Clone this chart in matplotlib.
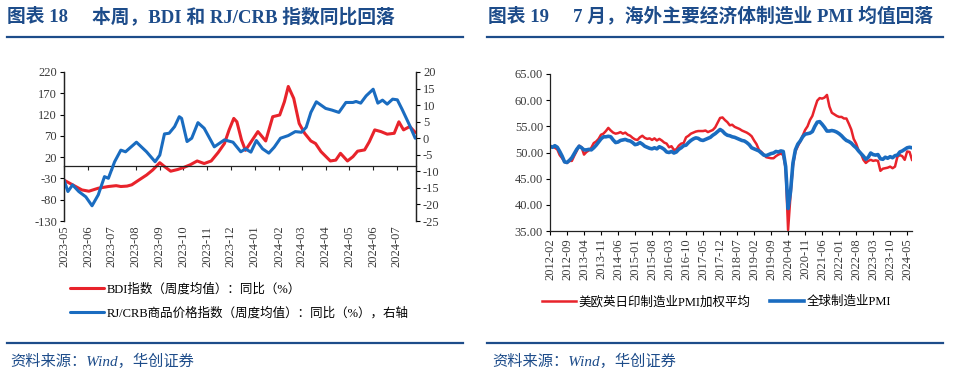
import matplotlib
matplotlib.use("Agg")
import matplotlib.pyplot as plt
import pandas as pd
import numpy as np

plt.rcParams['font.family'] = ['Liberation Serif', 'Noto Sans CJK SC', 'DejaVu Sans']
plt.rcParams['axes.unicode_minus'] = False

# ---- chart 18: BDI and RJ/CRB, yoy (%) ----
bdi_dates = ['2023-05-01', '2023-05-12', '2023-05-24', '2023-06-02', '2023-06-14', '2023-06-27',
             '2023-07-07', '2023-07-13', '2023-07-21', '2023-07-27', '2023-08-05', '2023-08-15',
             '2023-08-23', '2023-09-01', '2023-09-07', '2023-09-15', '2023-09-24', '2023-10-02',
             '2023-10-10', '2023-10-19', '2023-10-28', '2023-11-06', '2023-11-15', '2023-11-23',
             '2023-11-29', '2023-12-05', '2023-12-09', '2023-12-15', '2023-12-20', '2024-01-05',
             '2024-01-15', '2024-01-24', '2024-02-02', '2024-02-08', '2024-02-13', '2024-02-20',
             '2024-02-27', '2024-03-05', '2024-03-13', '2024-03-19', '2024-03-26', '2024-04-07',
             '2024-04-14', '2024-04-20', '2024-04-29', '2024-05-06', '2024-05-12', '2024-05-21',
             '2024-05-27', '2024-06-03', '2024-06-11', '2024-06-19', '2024-06-28', '2024-07-04',
             '2024-07-10', '2024-07-18', '2024-07-25']
bdi_yoy = [-34, -45, -57, -60, -53, -49, -47, -49, -48, -45, -34, -22,
           -10, 7, -2, -13, -9, -4, 2, 11, 5, 11, 31, 52,
           84, 111, 103, 60, 36, 80, 58, 115, 119, 150, 186, 158,
           99, 76, 58, 52, 33, 11, 13, 29, 11, 21, 34, 37,
           56, 84, 80, 74, 76, 103, 84, 92, 78]

crb_dates = ['2023-05-01', '2023-05-06', '2023-05-12', '2023-05-20', '2023-05-29', '2023-06-06',
             '2023-06-14', '2023-06-22', '2023-06-27', '2023-07-05', '2023-07-13', '2023-07-19',
             '2023-08-02', '2023-08-15', '2023-08-26', '2023-09-01', '2023-09-07', '2023-09-13',
             '2023-09-20', '2023-09-26', '2023-09-29', '2023-10-06', '2023-10-12', '2023-10-20',
             '2023-10-28', '2023-11-10', '2023-11-23', '2023-12-04', '2023-12-14', '2023-12-20',
             '2023-12-27', '2024-01-03', '2024-01-11', '2024-01-19', '2024-01-26', '2024-02-03',
             '2024-02-13', '2024-02-22', '2024-03-01', '2024-03-07', '2024-03-13', '2024-03-20',
             '2024-04-01', '2024-04-09', '2024-04-18', '2024-04-27', '2024-05-06', '2024-05-10',
             '2024-05-16', '2024-05-23', '2024-06-01', '2024-06-07', '2024-06-13', '2024-06-19',
             '2024-06-26', '2024-07-02', '2024-07-08', '2024-07-18', '2024-07-25']
crb_yoy = [-12.6, -16.1, -14.1, -16.1, -17.7, -20.4, -17.1, -11.6, -12.1, -7.1, -3.6, -4.1,
           -1.2, -4.1, -7.1, -5.1, 1.3, 1.5, 3.5, 6.5, 6.0, -1.0, 0.0, 4.7,
           3.0, -2.6, -0.5, -1.2, -4.1, -3.2, -4.2, -0.7, -3.2, -4.5, -2.7, 0.0,
           0.8, 2.0, 1.8, 3.3, 7.8, 11.0, 9.0, 8.5, 7.8, 10.8, 10.8, 11.1,
           10.6, 12.8, 14.8, 10.6, 11.5, 10.3, 11.8, 11.6, 8.8, 3.8, 0.0]

month_ticks = pd.date_range('2023-05-01', '2024-07-01', freq='MS')

# ---- chart 19: manufacturing PMI ----
pmi_months = pd.date_range('2012-02-01', '2024-07-01', freq='MS')
global_pmi = [51.2, 51.0, 51.3, 51.0, 50.2, 49.3, 48.2, 48.1, 48.5, 49.0, 49.8, 50.6,
              51.2, 50.9, 50.5, 50.5, 50.6, 50.5, 50.9, 51.4, 52.0, 52.6, 53.0, 53.0,
              53.1, 53.0, 52.4, 51.9, 52.0, 52.3, 52.4, 52.5, 52.3, 52.2, 51.9, 51.5,
              51.6, 51.9, 51.6, 51.2, 51.0, 50.8, 50.7, 50.9, 50.7, 51.1, 50.9, 50.6,
              50.1, 50.0, 50.2, 49.9, 50.1, 50.6, 50.9, 51.3, 51.4, 51.9, 52.3, 52.6,
              52.8, 52.7, 52.4, 52.3, 52.5, 52.7, 52.9, 53.3, 53.6, 54.0, 54.4, 54.1,
              53.6, 53.3, 53.2, 53.0, 52.9, 52.7, 52.5, 52.3, 52.2, 51.9, 51.5, 50.9,
              50.7, 50.5, 50.3, 49.9, 49.5, 49.4, 49.6, 49.8, 49.9, 50.2, 50.1, 50.3,
              50.2, 47.3, 39.3, 42.5, 48.0, 50.5, 51.6, 52.2, 53.0, 53.5, 53.6, 53.7,
              54.0, 55.0, 55.8, 55.9, 55.4, 54.8, 54.1, 54.1, 54.2, 54.1, 53.9, 53.6,
              53.2, 52.7, 52.3, 52.1, 51.8, 51.3, 50.9, 50.3, 49.8, 49.3, 48.7, 49.1,
              49.9, 49.6, 49.5, 49.6, 48.8, 48.7, 49.1, 48.9, 49.2, 49.0, 49.4, 49.5,
              50.1, 50.3, 50.6, 50.9, 51.0, 50.9]
dm_pmi = [51.3, 51.1, 50.9, 50.6, 49.5, 48.9, 48.2, 48.0, 48.4, 48.4, 49.4, 50.3,
          51.3, 51.0, 49.6, 50.1, 50.4, 50.9, 51.8, 52.1, 52.6, 53.4, 53.6, 54.1,
          54.7, 54.2, 53.8, 53.6, 53.7, 53.9, 53.6, 53.8, 53.4, 53.2, 52.8, 52.5,
          52.4, 52.9, 53.2, 52.8, 52.6, 52.7, 52.4, 52.7, 52.3, 52.6, 52.3, 51.9,
          51.7, 51.0, 51.2, 50.5, 50.6, 51.3, 51.7, 51.8, 52.9, 53.2, 53.6, 53.8,
          54.0, 54.1, 54.1, 54.1, 54.2, 53.9, 54.1, 54.3, 54.8, 55.7, 56.6, 56.7,
          56.2, 55.8, 55.2, 55.3, 54.9, 54.7, 54.5, 54.2, 54.0, 53.8, 53.5, 53.1,
          52.3, 51.6, 50.5, 50.1, 49.6, 49.1, 49.0, 48.9, 48.9, 49.3, 49.6, 49.8,
          49.5, 47.0, 35.2, 41.9, 47.5, 50.2, 51.2, 52.1, 53.2, 54.3, 55.0, 56.2,
          57.0, 58.5, 59.9, 60.4, 60.3, 60.5, 61.0, 58.8, 57.6, 57.3, 57.0, 56.8,
          56.8, 56.5, 56.5, 55.5, 54.4, 52.6, 51.7, 50.4, 49.8, 48.6, 48.0, 48.4,
          48.6, 48.4, 48.5, 48.4, 46.5, 46.9, 47.0, 47.1, 47.3, 47.0, 47.3, 49.2,
          49.5, 49.3, 48.6, 50.2, 50.1, 48.6]

RED = '#E8232B'
BLUE = '#1A6CC0'
NAVY = '#1D4C8A'
GRAY = '#3A3A3A'

fig = plt.figure(figsize=(9.6, 3.82), dpi=100)

# headers, rules and sources
ty = 1 - 17/382
fig.text(7/960, ty, '图表 18', fontsize=13.5, fontweight='bold', color=NAVY, va='center')
fig.text(92/960, ty, '本周，BDI 和 RJ/CRB 指数同比回落', fontsize=13.5, fontweight='bold',
         color=NAVY, va='center')
fig.text(488/960, ty, '图表 19', fontsize=13.5, fontweight='bold', color=NAVY, va='center')
fig.text(573/960, ty, '7 月，海外主要经济体制造业 PMI 均值回落', fontsize=13.5,
         fontweight='bold', color=NAVY, va='center')
for x0, x1 in [(7, 463), (487, 943)]:
    for yy in (37, 343):
        fig.add_artist(plt.Line2D([x0/960, x1/960], [1 - yy/382, 1 - yy/382],
                                  color=NAVY, lw=1.6))
fig.text(10/960, 1 - 361/382, '资料来源：Wind，华创证券', fontsize=11, style='italic',
         color=NAVY, va='center')
fig.text(492/960, 1 - 361/382, '资料来源：Wind，华创证券', fontsize=11, style='italic',
         color=NAVY, va='center')

# ---- left chart ----
ax = fig.add_axes([64/960, 1 - 221/382, (416 - 64)/960, (221 - 72)/382])
ax2 = ax.twinx()
l1, = ax.plot(pd.to_datetime(bdi_dates), bdi_yoy, color=RED, lw=2.2, solid_capstyle='round')
l2, = ax2.plot(pd.to_datetime(crb_dates), crb_yoy, color=BLUE, lw=2.2, solid_capstyle='round')
ax.set_ylim(-130, 220)
ax.set_yticks(np.arange(-130, 221, 50))
ax2.set_ylim(-25, 20)
ax2.set_yticks(np.arange(-25, 21, 5))
ax.set_xlim(pd.Timestamp('2023-05-01'), pd.Timestamp('2024-07-26'))
ax.set_xticks(month_ticks)
ax.tick_params(axis='x', direction='out', length=3, width=0.8, color='#222222', labelbottom=False)
for t in month_ticks:
    ax.text(t, -0.03, t.strftime('%Y-%m'), transform=ax.get_xaxis_transform(),
            rotation=90, ha='center', va='top', fontsize=9, color=GRAY)
ax.spines['bottom'].set_position(('data', 0))
for a in (ax, ax2):
    a.spines['top'].set_visible(False)
    for s in a.spines.values():
        s.set_color('#222222')
        s.set_linewidth(0.9)
ax2.spines['bottom'].set_visible(False)
ax.tick_params(axis='y', direction='out', length=3, labelsize=9, labelcolor=GRAY, pad=2)
ax2.tick_params(axis='y', direction='out', length=3, labelsize=9, labelcolor=GRAY, pad=2)
ax.legend([l1, l2], ['BDI指数（周度均值）：同比（%）', 'RJ/CRB商品价格指数（周度均值）：同比（%），右轴'],
          loc='upper left', bbox_to_anchor=(70/960, 1 - 283/382), bbox_transform=fig.transFigure,
          frameon=False, fontsize=9, handlelength=2.7, handletextpad=0.2, labelspacing=0.95,
          borderaxespad=0, borderpad=0)

# ---- right chart ----
bx = fig.add_axes([550/960, 1 - 231/382, (912 - 550)/960, (231 - 74)/382])
xi = np.arange(len(pmi_months))
r1, = bx.plot(xi, dm_pmi, color=RED, lw=1.8)
r2, = bx.plot(xi, global_pmi, color=BLUE, lw=2.6)
bx.set_ylim(35, 65)
bx.set_yticks(np.arange(35, 66, 5))
bx.set_yticklabels([f'{v:.2f}' for v in np.arange(35, 66, 5)])
bx.set_xlim(0, len(pmi_months) - 1)
tick_idx = xi[::7]
bx.set_xticks(tick_idx)
bx.set_xticklabels([pmi_months[i].strftime('%Y-%m') for i in tick_idx], rotation=90)
bx.tick_params(axis='both', direction='out', length=3, labelsize=9, labelcolor=GRAY, pad=2)
bx.spines['top'].set_visible(False)
bx.spines['right'].set_visible(False)
for s in ('left', 'bottom'):
    bx.spines[s].set_color('#222222')
    bx.spines[s].set_linewidth(0.9)
bx.legend([r1, r2], ['美欧英日印制造业PMI加权平均', '全球制造业PMI'], loc='center left',
          bbox_to_anchor=(542/960, 1 - 302/382), bbox_transform=fig.transFigure, ncol=2,
          frameon=False, fontsize=9, handlelength=2.7, handletextpad=0.2, columnspacing=1.6,
          borderaxespad=0, borderpad=0)

plt.savefig('out.png', dpi=100)
